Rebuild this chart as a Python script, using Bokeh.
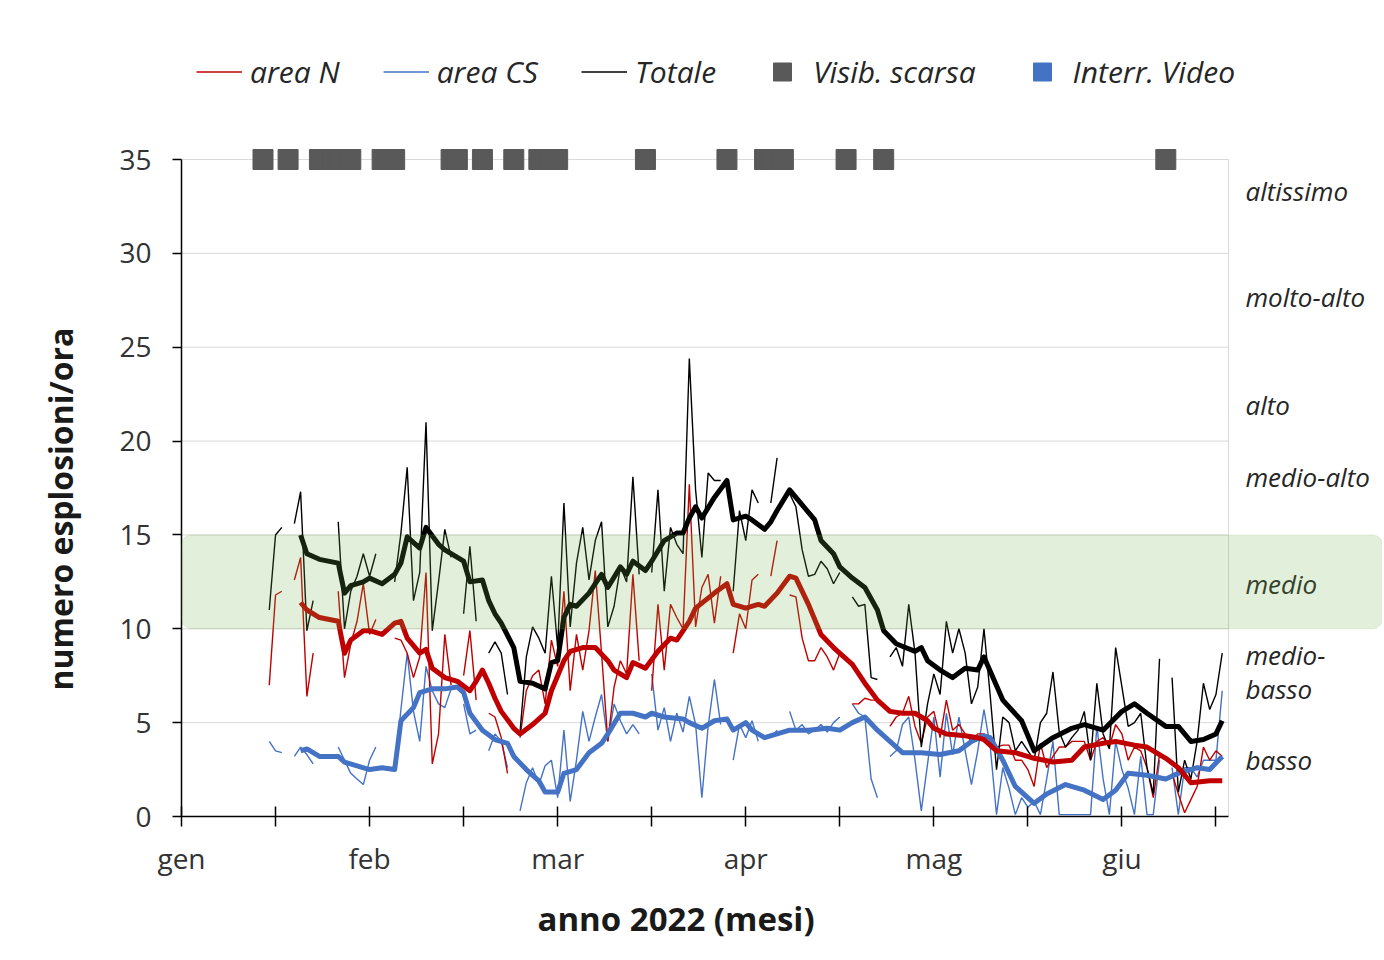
import numpy as np
from bokeh.plotting import figure
from bokeh.models import (FixedTicker, Legend, LegendItem, Label, Title,
                          BoxAnnotation, Range1d)
from bokeh.embed import file_html
from bokeh.resources import INLINE

N = None
# ---- daily values (days counted from 1 January 2022), None = no data ----
days = list(range(14, 167))
totale = [11.0, 15.0, 15.4, N, 15.6, 17.3, 9.9, 11.5, N, N, N, 15.7, 10.0, 12.0, 12.8, 14.0,
          12.8, 14.0, N, N, 12.5, 15.1, 18.6, 11.5, 13.0, 21.0, 9.9, 12.5, 15.3, 13.8, N,
          10.8, 14.4, 10.4, N, 8.7, 9.3, 8.7, 6.5, N, 4.5, 8.5, 10.1, 9.5, 8.7, 12.8, 9.0,
          16.7, 10.1, 13.5, 15.4, 12.6, 14.7, 15.7, 10.1, 11.2, 13.3, 12.5, 18.1, 12.9, N,
          13.0, 17.4, 12.0, 15.4, 14.5, 14.0, 24.4, 17.4, 13.8, 18.3, 17.9, 17.9, N, 12.0,
          16.3, 14.7, 17.4, 16.7, N, 16.7, 19.1, N, 17.2, 16.5, 14.2, 12.8, 12.9, 13.6, 13.2,
          12.4, 13.0, N, 11.7, 11.2, 11.3, 7.4, 7.3, N, 8.5, 9.0, 8.0, 11.3, 8.7, 3.7, 6.0,
          7.6, 6.5, 10.4, 8.7, 10.0, 8.7, 6.0, 6.9, 10.0, 6.4, 2.5, 5.3, 5.0, 3.5, 4.0, 3.5,
          3.0, 5.0, 5.5, 7.7, 4.5, 3.7, 4.2, 4.6, 5.6, 3.0, 7.1, 4.4, 3.6, 9.0, 6.9, 4.8,
          5.0, 5.5, 2.6, 1.2, 8.4, N, 7.4, 1.3, 3.0, 2.0, 4.0, 7.1, 5.7, 6.5, 8.7]
area_n = [7.0, 11.8, 12.0, N, 12.6, 13.8, 6.4, 8.7, N, N, N, 12.0, 7.4, 9.2, 10.4, 12.4,
          9.7, 10.5, N, N, 9.5, 9.4, 8.7, 7.4, 8.5, 13.0, 2.8, 4.4, 9.7, 7.0, N,
          7.5, 9.9, 6.2, N, 5.5, 5.3, 4.2, 2.3, N, 4.2, 6.7, 7.5, 7.8, 6.0, 9.4, 8.0,
          12.0, 6.7, 9.7, 7.8, 9.9, 13.1, 8.7, 4.0, 6.9, 8.3, 7.6, 12.9, 8.3, N,
          6.7, 11.3, 7.8, 11.3, 10.6, 10.0, 17.7, 10.1, 12.2, 12.9, 10.3, 12.8, N, 8.7,
          10.8, 10.0, 12.6, 12.9, N, 12.8, 14.7, N, 11.8, 11.7, 9.5, 8.3, 8.3, 9.0, 8.5,
          7.8, 8.7, N, 6.0, 6.0, 6.3, 6.2, 6.2, N, 4.8, 5.3, 5.5, 6.4, 4.8, 3.9, 5.3,
          5.6, 4.2, 6.2, 4.6, 4.9, 4.4, 4.0, 4.4, 4.4, 3.7, 3.7, 3.8, 3.8, 3.0, 3.0, 2.5,
          1.6, 3.9, 2.6, 3.2, 3.7, 3.7, 4.0, 4.0, 4.0, 3.0, 4.0, 4.2, 3.7, 4.9, 4.4, 3.0,
          3.7, 3.5, 2.6, 1.0, 3.3, N, 2.3, 1.2, 0.2, 0.9, 1.6, 3.7, 3.0, 3.5, 3.2]
area_cs = [4.0, 3.5, 3.4, N, 3.2, 3.7, 3.3, 2.8, N, N, N, 3.7, 3.0, 2.3, 2.0, 1.7,
           3.0, 3.7, N, N, 2.6, 5.7, 8.7, 5.6, 4.0, 8.0, 6.7, 6.0, 5.8, 6.8, N,
           6.0, 4.4, 4.6, N, 3.5, 4.4, 4.0, 2.6, N, 0.3, 1.8, 2.6, 1.7, 2.7, 3.0, 1.0,
           4.6, 0.8, 3.0, 5.6, 4.0, 5.3, 6.5, 4.0, 6.0, 5.1, 4.4, 4.9, 4.4, N,
           7.6, 4.6, 5.8, 4.0, 5.5, 4.5, 6.4, 4.9, 1.0, 4.8, 7.3, 4.9, N, 3.0,
           4.9, 4.2, 5.1, 4.0, N, 4.2, 4.6, N, 5.6, 4.6, 4.9, 4.4, 4.6, 4.9, 4.5,
           5.0, 5.3, N, 6.0, 5.5, 5.3, 2.0, 1.0, N, 3.2, 3.5, 4.9, 5.3, 3.0, 0.3, 2.8,
           5.3, 2.1, 5.5, 3.3, 5.3, 3.5, 1.7, 3.5, 5.7, 3.7, 0.1, 2.6, 1.5, 0.1, 1.0, 0.5,
           0.8, 0.1, 2.0, 4.0, 0.1, 0.1, 0.1, 0.1, 0.1, 0.1, 4.8, 2.0, 0.1, 4.0, 2.5, 1.5,
           0.1, 3.2, 0.1, 0.1, 3.0, N, 2.6, 0.1, 2.6, 2.6, 2.1, 3.0, 3.0, 3.0, 6.7]

# ---- moving averages (thick lines) ----
ma_tot_days = [19, 20, 22, 25, 26, 27, 29, 30, 32, 34, 35, 36, 38, 39, 41, 42, 44, 45, 46, 48,
               49, 50, 51, 53, 54, 56, 58, 59, 60, 61, 62, 63, 65, 66, 67, 68, 70, 71, 72, 74,
               75, 77, 79, 80, 81, 82, 83, 85, 87, 88, 90, 91, 93, 94, 95, 97, 98, 101, 102,
               104, 105, 107, 109, 111, 112, 114, 117, 118, 119, 121, 123, 125, 127, 128, 131,
               134, 136, 139, 142, 144, 147, 150, 152, 154, 157, 159, 161, 163, 165, 166]
ma_tot = [15.0, 14.0, 13.7, 13.5, 11.9, 12.3, 12.5, 12.7, 12.4, 12.9, 13.5, 14.9, 14.3, 15.4,
          14.5, 14.2, 13.8, 13.6, 12.5, 12.6, 11.5, 10.8, 10.3, 9.0, 7.2, 7.1, 6.8, 8.2, 8.3,
          10.6, 11.3, 11.2, 11.9, 12.4, 12.9, 12.2, 13.3, 12.9, 13.6, 13.1, 13.6, 14.7, 15.1,
          15.1, 15.9, 16.5, 15.9, 17.0, 17.9, 15.8, 16.0, 15.8, 15.3, 15.7, 16.3, 17.4, 17.0,
          15.8, 14.7, 14.0, 13.3, 12.7, 12.2, 11.0, 9.9, 9.2, 8.8, 9.0, 8.3, 7.8, 7.4, 7.9,
          7.8, 8.5, 6.2, 5.1, 3.5, 4.2, 4.7, 4.9, 4.6, 5.6, 6.0, 5.5, 4.8, 4.8, 4.0, 4.1,
          4.4, 5.1]
ma_n_days = [19, 20, 22, 25, 26, 27, 29, 30, 32, 34, 35, 36, 38, 39, 40, 42, 44, 46, 47, 48,
             49, 50, 51, 53, 54, 56, 58, 59, 61, 62, 64, 66, 68, 69, 71, 72, 74, 76, 78, 79,
             81, 82, 85, 87, 88, 90, 92, 93, 95, 97, 98, 100, 102, 104, 107, 109, 111, 113,
             115, 117, 119, 120, 122, 125, 127, 128, 130, 133, 136, 139, 142, 144, 147, 149,
             152, 154, 157, 159, 161, 164, 166]
ma_n = [11.4, 11.0, 10.6, 10.4, 8.7, 9.4, 9.9, 9.9, 9.7, 10.3, 10.4, 9.5, 8.7, 8.9, 7.9, 7.4,
        7.2, 6.7, 7.2, 7.8, 7.1, 6.3, 5.6, 4.7, 4.4, 4.9, 5.5, 6.7, 8.3, 8.8, 9.0, 9.0, 8.3,
        7.8, 7.4, 8.2, 7.9, 8.8, 9.5, 9.4, 10.4, 11.1, 11.9, 12.4, 11.3, 11.1, 11.3, 11.2,
        11.9, 12.8, 12.7, 11.3, 9.7, 9.0, 8.1, 7.1, 6.2, 5.6, 5.5, 5.5, 5.1, 4.7, 4.4, 4.3,
        4.2, 4.1, 3.5, 3.4, 3.1, 2.9, 3.0, 3.7, 3.9, 4.0, 3.8, 3.7, 3.1, 2.6, 1.8, 1.9, 1.9]
ma_cs_days = [19, 20, 22, 25, 26, 28, 30, 32, 34, 35, 37, 38, 40, 42, 44, 45, 46, 48, 50, 52,
              53, 55, 57, 58, 60, 61, 63, 65, 67, 68, 70, 72, 74, 75, 77, 80, 81, 83, 85, 87,
              88, 90, 91, 93, 95, 97, 100, 103, 105, 107, 109, 111, 113, 115, 118, 121, 124,
              126, 128, 129, 131, 133, 136, 138, 141, 144, 147, 149, 151, 154, 157, 159, 162,
              164, 166]
ma_cs = [3.5, 3.6, 3.2, 3.2, 2.9, 2.7, 2.5, 2.6, 2.5, 5.1, 5.8, 6.6, 6.8, 6.8, 6.9, 6.6, 5.5,
         4.6, 4.1, 3.9, 3.2, 2.5, 1.9, 1.3, 1.3, 2.3, 2.5, 3.4, 3.9, 4.4, 5.5, 5.5, 5.3, 5.5,
         5.3, 5.2, 5.0, 4.7, 5.1, 5.2, 4.6, 5.0, 4.6, 4.2, 4.4, 4.6, 4.6, 4.7, 4.6, 5.0, 5.3,
         4.6, 4.0, 3.4, 3.4, 3.3, 3.5, 4.0, 4.3, 4.2, 3.0, 1.6, 0.7, 1.2, 1.7, 1.4, 0.9, 1.4,
         2.3, 2.2, 2.0, 2.3, 2.6, 2.5, 3.2]

# ---- days with poor visibility / video interruptions ----
visib_days = [13, 17, 22, 23, 24, 25, 26, 27, 32, 33, 34, 43, 44, 48, 53, 57, 58, 59, 60,
              74, 87, 93, 94, 95, 96, 106, 112, 157]
interr_days = []          # none visible in this period
marker_level = 35

month_ticks = [0, 15, 30, 45, 60, 75, 90, 105, 120, 135, 150, 165]
month_labels = {0: "gen", 30: "feb", 60: "mar", 90: "apr", 120: "mag", 150: "giu"}
y_ticks = [0, 5, 10, 15, 20, 25, 30, 35]
levels = ["altissimo", "molto-alto", "alto", "medio-alto", "medio", "medio-", "basso", "basso"]
level_pos = [33.3, 27.65, 21.9, 18.1, 12.4, 8.6, 6.8, 3.0]
medio_band = (10, 15)

RED, BLUE, BLACK, GRAY = "#c00000", "#4472c4", "#000000", "#595959"
FONT = "Open Sans"
PLOT_END = 167          # right edge of the drawn chart area (days)
Y_TOP = 35

def arr(v):
    return np.array([np.nan if x is None else x for x in v], dtype=float)

W, H = 1382, 958
LEFT, TOP, BOTTOM = 181, 20, 816
PX_DAY = 1047.0 / PLOT_END
PX_UNIT = (BOTTOM - 159) / 35.0
p = figure(width=W, height=H,
           x_range=Range1d(0, (W - LEFT) / PX_DAY),
           y_range=Range1d(0, (BOTTOM - TOP) / PX_UNIT),
           output_backend="svg", toolbar_location=None,
           min_border_left=LEFT, min_border_right=0, min_border_top=TOP,
           min_border_bottom=H - BOTTOM)
p.outline_line_color = None
p.background_fill_color = "white"
p.border_fill_color = "white"
p.xgrid.grid_line_color = None
p.ygrid.grid_line_color = None

xa = p.xaxis[0]
xa.ticker = FixedTicker(ticks=month_ticks)
xa.bounds = (0, PLOT_END)
xa.major_label_overrides = {t: month_labels.get(t, "") for t in month_ticks}
xa.major_tick_in = 10
xa.major_tick_out = 10
xa.major_label_standoff = 12

ya = p.yaxis[0]
ya.ticker = FixedTicker(ticks=y_ticks)
ya.bounds = (0, Y_TOP)
ya.major_tick_in = 0
ya.major_tick_out = 9
ya.major_label_standoff = 21

for ax in (xa, ya):
    ax.axis_line_color = "black"
    ax.axis_line_width = 1.5
    ax.major_tick_line_color = "black"
    ax.major_tick_line_width = 1.5
    ax.minor_tick_line_color = None
    ax.major_label_text_font = FONT
    ax.major_label_text_font_size = "28px"
    ax.major_label_text_color = "#333333"

# axis titles
p.add_layout(Title(text="numero esplosioni/ora", align="left", offset=126,
                   vertical_align="top", standoff=66, text_font=FONT,
                   text_font_style="bold", text_font_size="32px", text_color="#1a1a1a"),
             "left")
p.add_layout(Title(text="anno 2022 (mesi)", align="left", offset=356,
                   vertical_align="bottom", standoff=28, text_font=FONT,
                   text_font_style="bold", text_font_size="33px", text_color="#1a1a1a"),
             "below")

# grid lines and right border of the chart area
p.segment(x0=[0] * len(y_ticks), y0=y_ticks, x1=[PLOT_END] * len(y_ticks), y1=y_ticks,
          line_color="#d9d9d9", line_width=1)
p.segment(x0=[PLOT_END], y0=[0], x1=[PLOT_END], y1=[Y_TOP], line_color="#d9d9d9", line_width=1)

# level labels (right side)
for name, yv in zip(levels, level_pos):
    p.add_layout(Label(x=169.7, y=yv, text=name, text_font=FONT, text_font_style="italic",
                       text_font_size="26px", text_baseline="middle", text_align="left",
                       text_color="#262626"))

x_days = np.array(days, dtype=float)
thin_cs = p.line(x_days, arr(area_cs), line_color=BLUE, line_width=1.4)
thin_n = p.line(x_days, arr(area_n), line_color=RED, line_width=1.4)
thin_t = p.line(x_days, arr(totale), line_color=BLACK, line_width=1.4)
p.line(ma_cs_days, ma_cs, line_color=BLUE, line_width=5, line_join="round")
p.line(ma_n_days, ma_n, line_color=RED, line_width=5, line_join="round")
p.line(ma_tot_days, ma_tot, line_color=BLACK, line_width=5, line_join="round")

vis = p.scatter(visib_days, [marker_level] * len(visib_days), marker="square", size=20,
                fill_color=GRAY, line_color=GRAY)
iv_x = interr_days if interr_days else [np.nan]
iv = p.scatter(iv_x, [marker_level] * len(iv_x), marker="square", size=20,
               fill_color=BLUE, line_color=BLUE)

band = BoxAnnotation(bottom=medio_band[0], top=medio_band[1], fill_color="#70ad47",
                     fill_alpha=0.2, line_color="#70ad47", line_alpha=0.15, border_radius=10)
p.add_layout(band)

legend = Legend(items=[LegendItem(label="area N", renderers=[thin_n]),
                       LegendItem(label="area CS", renderers=[thin_cs]),
                       LegendItem(label="Totale", renderers=[thin_t]),
                       LegendItem(label="Visib. scarsa", renderers=[vis]),
                       LegendItem(label="Interr. Video", renderers=[iv])],
                orientation="horizontal", location=(15, 722),
                glyph_width=46, glyph_height=45, label_height=45, label_standoff=8,
                spacing=43, padding=0, margin=0,
                border_line_color=None, background_fill_alpha=0,
                label_text_font=FONT, label_text_font_style="italic",
                label_text_font_size="30px", label_text_color="#262626")
p.add_layout(legend)

open("out.html", "w").write(file_html(p, INLINE))
